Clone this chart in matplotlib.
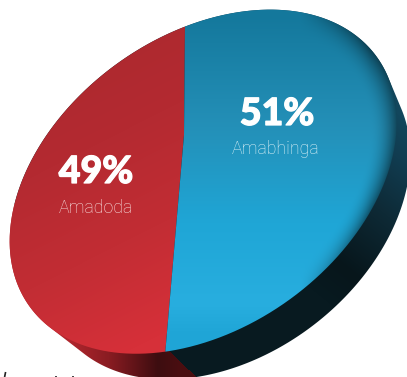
import numpy as np
import matplotlib
matplotlib.use("Agg")
import matplotlib.pyplot as plt
import matplotlib.patheffects as pe
from matplotlib.patches import PathPatch, Polygon
from matplotlib.path import Path

# Pie values
categories = ["Amadoda", "Amabhinga"]
shares = [49, 51]
value_labels = ["49%", "51%"]

W, H = 407, 377

# Projected disc: ellipse of the rim and the point where the slices meet
CENTER = np.array([203.2, 181.7])
SEMI_A, SEMI_B, TILT = 213.8, 146.1, np.radians(-35.6)
APEX = np.array([184.0, 135.0])
# Lower rim of the disc's side wall
LOW_CENTER = np.array([226.8, 210.6])
LOW_A, LOW_B, LOW_TILT = 203.8, 143.6, np.radians(-37.8)


def ellipse_matrix(a, b, tilt):
    c, s = np.cos(tilt), np.sin(tilt)
    return np.array([[c, -s], [s, c]]) @ np.diag([a, b])


AFF = ellipse_matrix(SEMI_A, SEMI_B, TILT)
AFF_INV = np.linalg.inv(AFF)


def boost(p, vec):
    """Projective map of the unit disc onto itself sending 0 to vec."""
    m = np.hypot(*vec)
    u = vec / m
    v = np.array([-u[1], u[0]])
    par = p @ u
    perp = p @ v
    den = 1 + m * par
    return np.outer((par + m) / den, u) + np.outer(perp * np.sqrt(1 - m * m) / den, v)


APEX_N = AFF_INV @ (APEX - CENTER)


def to_page(p):
    return boost(np.atleast_2d(p), APEX_N) @ AFF.T + CENTER


def from_page(q):
    return boost((np.atleast_2d(q) - CENTER) @ AFF_INV.T, -APEX_N)


# Angle of the slice boundary reaching the far rim
top = from_page([185.0, 27.0])[0]
start = np.degrees(np.arctan2(top[1], top[0]))

fig = plt.figure(figsize=(W / 100, H / 100), dpi=100)
ax = fig.add_axes([0, 0, 1, 1])
ax.set_xlim(0, W)
ax.set_ylim(H, 0)
ax.axis("off")

# Slices are laid out on the unit circle, then projected on to the page
helper = fig.add_axes([0, 0, 0.01, 0.01])
wedges, _ = helper.pie(shares[::-1], startangle=start, radius=1.0, counterclock=True)
helper.remove()
wedge_paths = {}
for name, w in zip(categories[::-1], wedges):
    a = np.radians(np.linspace(w.theta1, w.theta2, 240))
    wedge_paths[name] = np.vstack([[0.0, 0.0], np.column_stack([np.cos(a), np.sin(a)])])

xx, yy = np.meshgrid(np.arange(W) + 0.5, np.arange(H) + 0.5)
grid = np.column_stack([xx.ravel(), yy.ravel()])
rim = np.hypot(*(((grid - CENTER) @ AFF_INV.T).T)).reshape(xx.shape)


def ramp(t, stops, cols):
    t = np.clip(t, 0, 1)
    arr = np.array([matplotlib.colors.to_rgb(k) for k in cols])
    return np.dstack([np.interp(t, stops, arr[:, i]) for i in range(3)])


def show(rgb, clip):
    im = ax.imshow(rgb, extent=[0, W, H, 0], aspect="auto", interpolation="bilinear", zorder=clip.get_zorder())
    im.set_clip_path(clip)


# Side wall: outline around the upper and lower rims
theta = np.linspace(0, 2 * np.pi, 720, endpoint=False)
ring = np.column_stack([np.cos(theta), np.sin(theta)])
upper = ring @ AFF.T + CENTER
lower = ring @ ellipse_matrix(LOW_A, LOW_B, LOW_TILT).T + LOW_CENTER
both = np.vstack([upper, lower])
wall_pts = both[np.argmax(both @ ring.T, axis=0)]
wall = Polygon(wall_pts, closed=True, transform=ax.transData, fc="none", ec="none", zorder=1)
ax.add_patch(wall)

t_blue = ((xx - 405) * -0.62 + (yy - 120) * 0.78) / 190
blue_side = ramp(t_blue, [0, 0.18, 0.45, 0.8, 1], ["#12465c", "#113c50", "#0e2a36", "#07161b", "#081a20"])
t_red = (xx - 70) / 110
red_side = ramp(t_red, [0, 0.35, 0.8, 1], ["#b0262d", "#8a1c22", "#3d0d10", "#4a0e10"])
boundary = 168.0 + (yy - 350) * 1.05
side = np.where((xx < boundary)[..., None], red_side, blue_side)
show(side, wall)

# Top face: soft shading toward the right-hand rim
t1 = (yy - 15) / 320
blue = ramp(t1, [0, 0.35, 0.65, 0.9, 1], ["#14789c", "#2490b8", "#1fa6d6", "#28aedf", "#1fa5d6"])
fade = np.clip((rim - 0.86) / 0.14, 0, 1) ** 2 * np.clip((xx - 300) / 70, 0, 1)
blue = blue * (1 - 0.5 * fade)[..., None]
t2 = ((xx - 30) * 0.45 + (yy - 30) * 0.89) / 330
red = ramp(t2, [0, 0.4, 0.7, 1], ["#a9282e", "#b42a31", "#c22d34", "#d63039"])
faces = {"Amabhinga": blue, "Amadoda": red}
for name in categories:
    pts = to_page(wedge_paths[name])
    patch = PathPatch(Path(np.vstack([pts, pts[:1]])), transform=ax.transData, fc="none", ec="none", zorder=3)
    ax.add_patch(patch)
    show(faces[name], patch)

# Value and name labels
val_xy = [(96, 172), (277, 114)]
name_xy = [(96, 208), (276, 149)]
name_cols = ["#f8e2e2", "#e0f3f8"]
for i, cat in enumerate(categories):
    ax.text(*val_xy[i], value_labels[i], color="white", fontsize=27, fontfamily="Lato", fontweight="black",
            ha="center", va="center", zorder=5,
            path_effects=[pe.withStroke(linewidth=0.9, foreground="white")])
    ax.text(*name_xy[i], cat, color=name_cols[i], fontsize=12.8, fontfamily="Roboto", fontweight="light",
            ha="center", va="center", zorder=5)

# Tops of the next line of type, cut off by the lower edge
ax.plot([5.6, 4.6], [372, 377], color="#222222", lw=1.2, solid_capstyle="butt", zorder=6)
ax.plot([55.5, 55.5], [375.5, 377], color="#222222", lw=1.2, solid_capstyle="butt", zorder=6)
ax.plot([72.5, 72.5], [375.5, 377], color="#222222", lw=1.2, solid_capstyle="butt", zorder=6)

fig.savefig("out.png", dpi=100)
